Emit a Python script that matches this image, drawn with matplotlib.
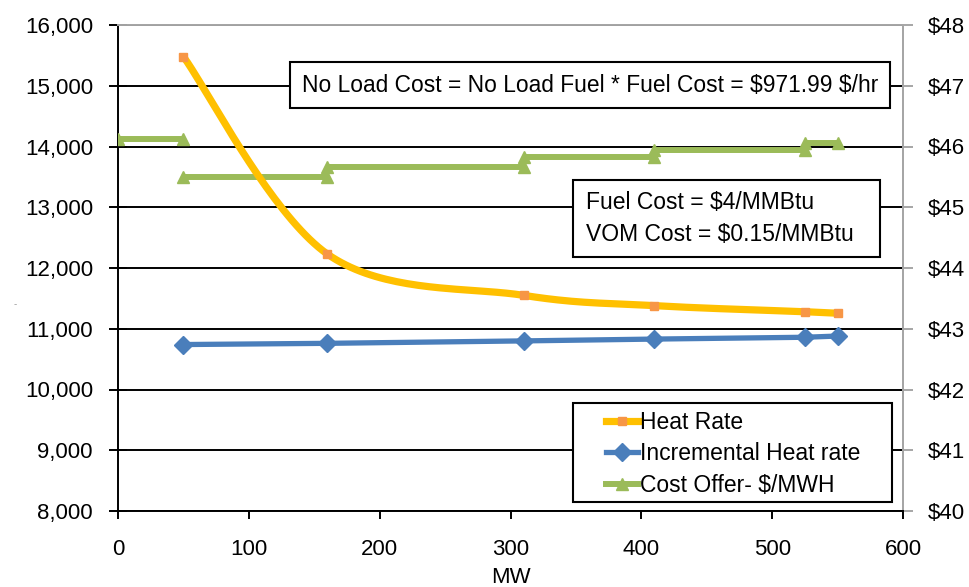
import numpy as np
import matplotlib
matplotlib.use("Agg")
import matplotlib.pyplot as plt
from matplotlib import font_manager
from matplotlib.lines import Line2D
from matplotlib.patches import Rectangle

# ---- data ---------------------------------------------------------------
mw_points = [50, 160, 310, 410, 525, 550]
heat_rate = [15480, 12230, 11550, 11380, 11280, 11255]
incremental_heat_rate = [10740, 10760, 10800, 10830, 10860, 10880]

cost_seg_start = [0, 50, 160, 310, 410, 525]
cost_seg_end = [50, 160, 310, 410, 525, 550]
cost_offer = [46.13, 45.50, 45.66, 45.82, 45.95, 46.05]

x_ticks = [0, 100, 200, 300, 400, 500, 600]
left_ticks = [8000, 9000, 10000, 11000, 12000, 13000, 14000, 15000, 16000]
right_ticks = [40, 41, 42, 43, 44, 45, 46, 47, 48]

no_load_text = r"No Load Cost = No Load Fuel * Fuel Cost = \$971.99 \$/hr"
cost_text = "Fuel Cost = \\$4/MMBtu\nVOM Cost = \\$0.15/MMBtu"
series_names = ["Heat Rate", "Incremental Heat rate", r"Cost Offer- \$/MWH"]

# ---- fonts --------------------------------------------------------------
names = {f.name for f in font_manager.fontManager.ttflist}
if "Liberation Sans Narrow" in names:
    FAM = ["Liberation Sans Narrow", "DejaVu Sans"]
    TICK_FS, BOX_FS, BOX2_FS, LEG_FS = 18, 18, 18, 18
else:
    FAM = ["Liberation Sans", "DejaVu Sans"]
    TICK_FS, BOX_FS, BOX2_FS, LEG_FS = 16, 16.4, 16.5, 16.5
plt.rcParams["font.family"] = FAM

YELLOW = "#FFC000"
ORANGE = "#F79646"
BLUE = "#4A7EBB"
GREEN = "#9BBB59"
GRAY = "#A6A6A6"


def smooth_curve(xs, ys, n=40):
    """Bezier smoothing through the points (Catmull-Rom style tangents)."""
    xs = np.asarray(xs, float)
    ys = np.asarray(ys, float)
    pts = np.column_stack([xs, ys])
    out = []
    m = len(pts)
    for i in range(m - 1):
        p0 = pts[i]
        p3 = pts[i + 1]
        prev = pts[i - 1] if i > 0 else pts[i]
        nxt = pts[i + 2] if i + 2 < m else pts[i + 1]
        c1 = p0 + (p3 - prev) / 6.0
        c2 = p3 - (nxt - p0) / 6.0
        t = np.linspace(0, 1, n)[:, None]
        seg = ((1 - t) ** 3) * p0 + 3 * ((1 - t) ** 2) * t * c1 \
            + 3 * (1 - t) * t ** 2 * c2 + t ** 3 * p3
        out.append(seg if i == 0 else seg[1:])
    out = np.vstack(out)
    return out[:, 0], out[:, 1]


W, H = 969, 587
fig = plt.figure(figsize=(W / 100, H / 100), dpi=100)
fig.patch.set_facecolor("white")

L, R, T, B = 118, 903, 25, 511
ax = fig.add_axes([L / W, 1 - B / H, (R - L) / W, (B - T) / H])
ax2 = ax.twinx()
ax.set_zorder(ax2.get_zorder() + 1)
ax.patch.set_visible(False)

ax.set_xlim(0, 600)
ax.set_ylim(8000, 16000)
ax2.set_ylim(40, 48)

# horizontal gridlines
ax.set_axisbelow(True)
ax.yaxis.grid(True, color="black", linewidth=1.4)
ax.xaxis.grid(False)

# cost offer steps (right-hand scale)
for xs, xe, v in zip(cost_seg_start, cost_seg_end, cost_offer):
    ax.plot([xs, xe], [v, v], color=GREEN, lw=4.3, marker="^", ms=8,
            markerfacecolor=GREEN, markeredgecolor=GREEN,
            transform=ax2.transData, zorder=3, solid_capstyle="butt")

# heat rate, smoothed
sx, sy = smooth_curve(mw_points, heat_rate)
ax.plot(sx, sy, color=YELLOW, lw=5.2, zorder=4, solid_capstyle="round")
ax.plot(mw_points, heat_rate, ls="none", marker="s", ms=5.5,
        color=ORANGE, zorder=5)

# incremental heat rate
ax.plot(mw_points, incremental_heat_rate, color=BLUE, lw=3.8, marker="D",
        ms=9, zorder=5)

# axes styling
ax.set_xticks(x_ticks)
ax.set_xticklabels([str(v) for v in x_ticks])
ax.set_yticks(left_ticks)
ax.set_yticklabels([f"{v:,}" for v in left_ticks])
ax2.set_yticks(right_ticks)
ax2.set_yticklabels([f"\\${v}" for v in right_ticks])

ax.tick_params(axis="y", direction="inout", length=13, width=1.4,
               color="black", labelsize=TICK_FS, pad=11.5)
ax.tick_params(axis="x", direction="out", length=6, width=1.4,
               color="black", labelsize=TICK_FS, pad=14)
ax2.tick_params(axis="y", direction="out", length=7, width=1.4,
                color=GRAY, labelsize=TICK_FS, pad=11)

for a in (ax, ax2):
    for s in a.spines.values():
        s.set_linewidth(1.4)
ax.spines["left"].set_color("black")
ax.spines["bottom"].set_color("black")
ax.spines["top"].set_color(GRAY)
ax.spines["right"].set_color(GRAY)
ax2.spines["top"].set_color(GRAY)
ax2.spines["right"].set_color(GRAY)
ax2.spines["left"].set_visible(False)
ax2.spines["bottom"].set_visible(False)
ax.spines["top"].set_zorder(6)

ax.set_xlabel("MW", fontsize=TICK_FS, labelpad=5)


def fig_box(x0, y0, x1, y1):
    r = Rectangle((x0 / W, 1 - y1 / H), (x1 - x0) / W, (y1 - y0) / H,
                  transform=fig.transFigure, facecolor="white",
                  edgecolor="black", lw=1.5, zorder=10)
    fig.add_artist(r)


# annotation boxes
fig_box(290, 62, 890, 108)
fig.text(590 / W, 1 - 85 / H, no_load_text, ha="center", va="center",
         fontsize=BOX_FS, zorder=11)

fig_box(573, 180, 880, 257)
fig.text(586 / W, 1 - 218.5 / H, cost_text, ha="left", va="center",
         fontsize=BOX2_FS, zorder=11, linespacing=1.45)

# legend
fig_box(573, 403, 892, 502)
handles = [
    Line2D([], [], color=YELLOW, lw=5.2, marker="s", ms=5.5,
           markerfacecolor=ORANGE, markeredgecolor=ORANGE),
    Line2D([], [], color=BLUE, lw=3.8, marker="D", ms=9),
    Line2D([], [], color=GREEN, lw=4.3, marker="^", ms=8),
]
leg = fig.legend(handles, series_names, loc="center left",
                 bbox_to_anchor=(606 / W, 1 - 454 / H), frameon=False,
                 fontsize=LEG_FS, handlelength=1.4, handletextpad=0.1,
                 labelspacing=0.35, borderpad=0, borderaxespad=0)
leg.set_zorder(11)

# faint stray mark at the left edge
fig.text(15 / W, 1 - 304 / H, "-", fontsize=7, color="#9a9a9a",
         ha="center", va="center")

fig.savefig("out.png", dpi=100, facecolor="white")
